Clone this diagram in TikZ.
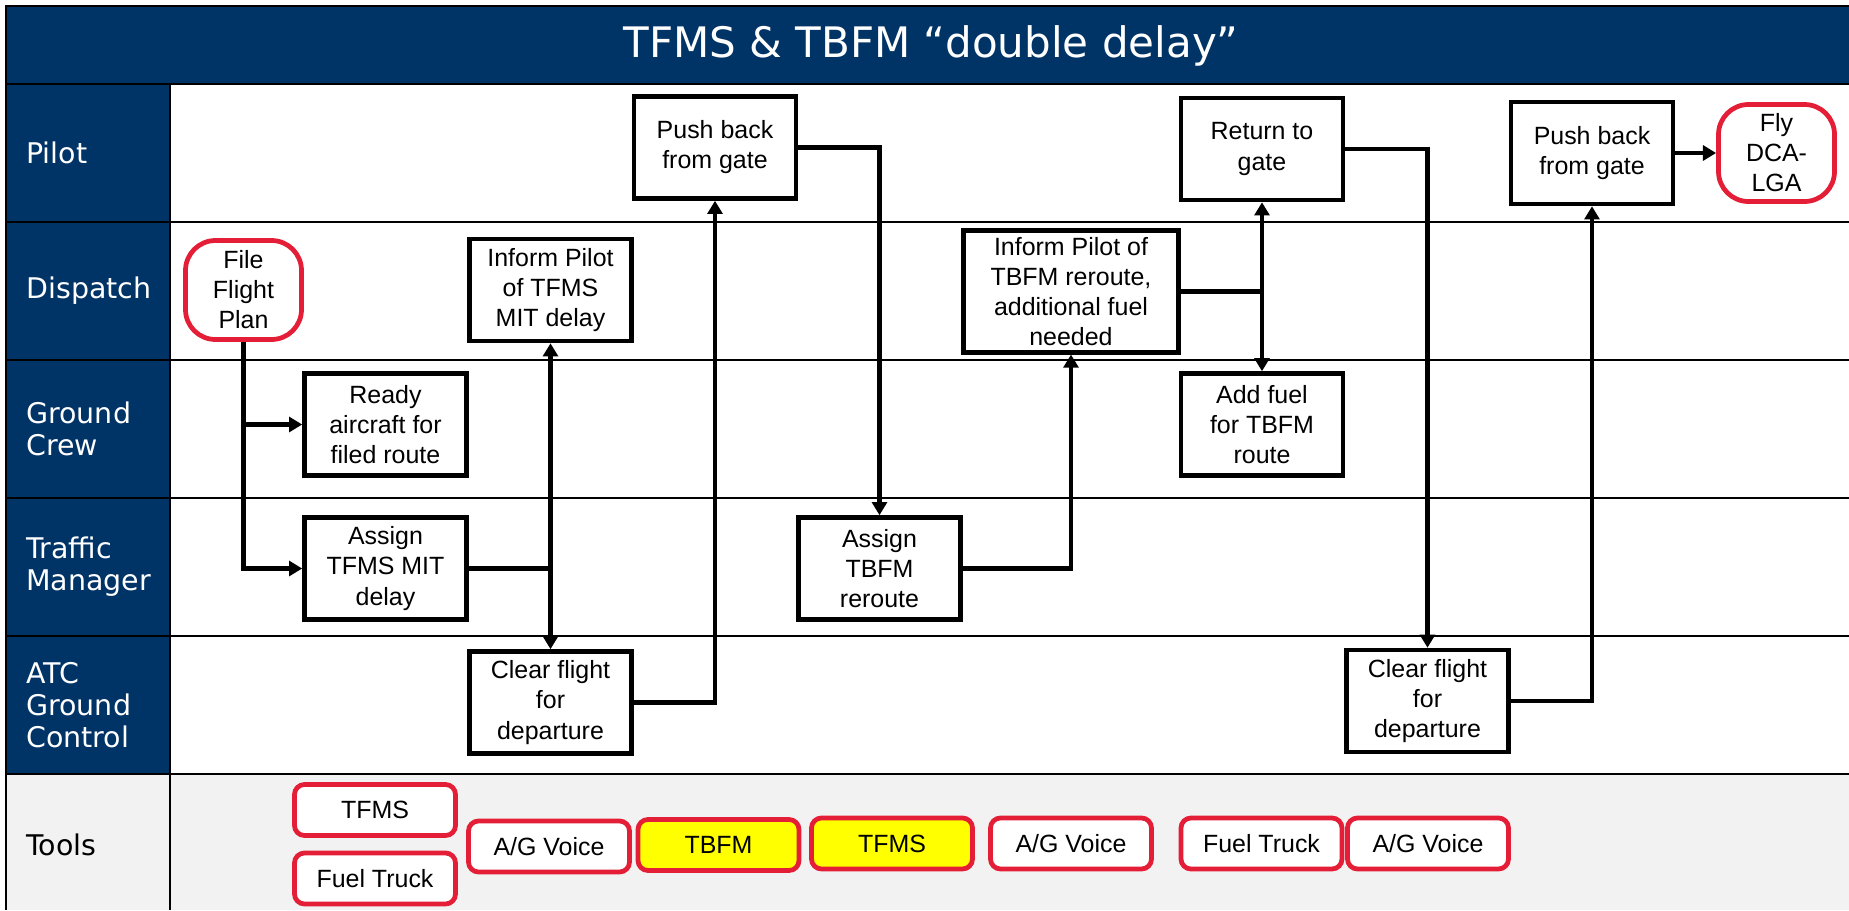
\documentclass[tikz,border=0pt]{standalone}
\usepackage{fontspec}
\setmainfont{Liberation Sans}
\newfontfamily\lanefont{DejaVu Sans}
\usetikzlibrary{arrows.meta}
\definecolor{navy}{RGB}{0,51,102}
\definecolor{toolred}{RGB}{227,30,54}
\definecolor{toolgray}{RGB}{242,242,242}
\definecolor{hilite}{RGB}{255,255,0}

\begin{document}
\begin{tikzpicture}[x=0.2mm,y=-0.2mm]
\tikzstyle{rowline}=[line width=1.2pt]
\tikzstyle{lane}=[anchor=west,inner sep=0pt,text=white,align=left,font=\lanefont\fontsize{16.2}{18.2}\selectfont]
\tikzstyle{task}=[draw,line width=2.6pt,fill=white,inner sep=0pt,align=center,
  minimum width=32.4mm,minimum height=20.4mm,font=\fontsize{14.2}{17.1}\selectfont]
\tikzstyle{endpoint}=[task,draw=toolred,line width=2.7pt,rounded corners=6mm,
  minimum width=23.2mm,minimum height=19.8mm]
\tikzstyle{tool}=[draw=toolred,line width=2.7pt,fill=white,rounded corners=2mm,inner sep=0pt,
  minimum width=32.2mm,minimum height=10.2mm,font=\fontsize{14.2}{17.1}\selectfont]
\tikzstyle{flow}=[line width=2.8pt,-{Triangle[length=7.5pt,width=8.5pt]}]
\useasboundingbox (0,0) rectangle (1849,910);

% lanes
\fill[navy] (6,6) rectangle (1849,84);
\fill[navy] (6,84) rectangle (170,774);
\fill[toolgray] (6,774) rectangle (1849,910);
\foreach \y in {84,222,360,498,636,774}
  \draw[rowline] (6,\y) -- (1849,\y);
\draw[rowline] (6,910) -- (6,6) -- (1849,6);
\draw[rowline] (170,84) -- (170,910);

\node[anchor=base,text=white,font=\lanefont\fontsize{23.9}{28}\selectfont] (title) at (931,57)
  {TFMS \& TBFM “double delay”};

\node[lane] (pilot) at (26,153) {Pilot};
\node[lane] (dispatch) at (26,291) {Dispatch};
\node[lane] (crew) at (26,429) {Ground\\Crew};
\node[lane] (traffic) at (26,567) {Traffic\\Manager};
\node[lane] (atc) at (26,705) {ATC\\Ground\\Control};
\node[lane,text=black] (tools) at (26,845) {Tools};

% steps
\node[endpoint] (ffp) at (243.5,290) {File\\Flight\\Plan};
\node[task] (informtfms) at (550.5,290) {Inform Pilot\\of TFMS\\MIT delay};
\node[task] (ready) at (385.5,424.5) {Ready\\aircraft for\\filed route};
\node[task] (assigntfms) at (385.5,568.5) {Assign\\TFMS MIT\\delay};
\node[task] (clear1) at (550.5,702.5) {Clear flight\\for\\departure};
\node[task] (push1) at (715,147.5) {Push back\\from gate};
\node[task] (assigntbfm) at (879.5,568.5) {Assign\\TBFM\\reroute};
\node[task,minimum width=42.9mm,minimum height=24.3mm] (informtbfm) at (1071,291.5)
  {Inform Pilot of\\TBFM reroute,\\additional fuel\\needed};
\node[task] (ret) at (1262,149) {Return to\\gate};
\node[task] (addfuel) at (1262,424.5) {Add fuel\\for TBFM\\route};
\node[task] (clear2) at (1427.5,701) {Clear flight\\for\\departure};
\node[task] (push2) at (1592,153) {Push back\\from gate};
\node[endpoint,minimum height=19.4mm] (fly) at (1776.5,153) {Fly\\DCA-\\LGA};

% tools
\node[tool] (tfmstool) at (375,810) {TFMS};
\node[tool] (fueltool) at (375,878.5) {Fuel Truck};
\node[tool] (voiceA) at (549,846.5) {A/G Voice};
\node[tool,fill=hilite] (tbfmtool) at (718.5,845) {TBFM};
\node[tool,fill=hilite] (tfmstoolB) at (892,843.5) {TFMS};
\node[tool] (voiceB) at (1071,843.5) {A/G Voice};
\node[tool] (fueltoolB) at (1261.5,843.5) {Fuel Truck};
\node[tool] (voiceC) at (1428,843.5) {A/G Voice};

% flow
\draw[flow] (ffp.south) |- (ready.west);
\draw[flow] (ffp.south) |- (assigntfms.west);
\draw[flow] (assigntfms.east) -| (informtfms.south);
\draw[flow] (assigntfms.east) -| (clear1.north);
\draw[flow] (clear1.east) -| (push1.south);
\draw[flow] (push1.east) -| (assigntbfm.north);
\draw[flow] (assigntbfm.east) -| (informtbfm.south);
\draw[flow] (informtbfm.east) -| (ret.south);
\draw[flow] (informtbfm.east) -| (addfuel.north);
\draw[flow] (ret.east) -| (clear2.north);
\draw[flow] (clear2.east) -| (push2.south);
\draw[flow] (push2) -- (fly);
\end{tikzpicture}
\end{document}
